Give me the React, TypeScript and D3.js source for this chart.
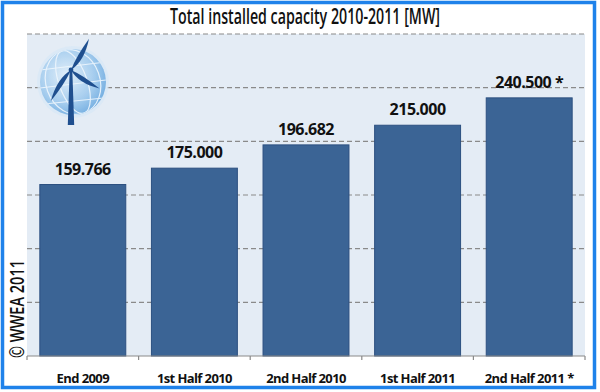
import React from "react";
import * as d3 from "d3";

const categories = ["End 2009", "1st Half 2010", "2nd Half 2010", "1st Half 2011", "2nd Half 2011 *"];
const values = [159.766, 175.0, 196.682, 215.0, 240.5];
const valueLabels = ["159.766", "175.000", "196.682", "215.000", "240.500 *"];
const yTicks = [0, 50, 100, 150, 200, 250, 300];
const title = "Total installed capacity 2010-2011 [MW]";
const watermark = "© WWEA 2011";

const W = 600;
const H = 392;
const M = { left: 27, right: 15, top: 34, bottom: 36 };

export default function App() {
  const x = d3
    .scaleBand<string>()
    .domain(categories)
    .range([M.left, W - M.right])
    .paddingInner(0.23)
    .paddingOuter(0.115);
  const y = d3.scaleLinear().domain([0, 300]).range([H - M.bottom, M.top]);
  const font = "'Open Sans', 'DejaVu Sans', sans-serif";

  const hubX = 71, hubY = 70;
  const blade = (ang: number, len: number) => {
    const r = (ang * Math.PI) / 180;
    const ex = hubX + Math.cos(r) * len;
    const ey = hubY + Math.sin(r) * len;
    const px = -Math.sin(r), py = Math.cos(r);
    const w = 4.5;
    const mx = hubX + Math.cos(r) * len * 0.4;
    const my = hubY + Math.sin(r) * len * 0.4;
    return `M${hubX},${hubY} Q${mx + px * w * 1.6},${my + py * w * 1.6} ${ex},${ey} Q${mx - px * w * 0.5},${my - py * w * 0.5} ${hubX},${hubY}Z`;
  };

  return (
    <svg width={W} height={H} style={{ position: "absolute", left: 0, top: 0, background: "#fff" }}>
      <defs>
        <radialGradient id="globe" cx="0.4" cy="0.4" r="0.7">
          <stop offset="0" stopColor="#e2effa" />
          <stop offset="0.6" stopColor="#a6cdee" />
          <stop offset="1" stopColor="#6aa8de" />
        </radialGradient>
        <clipPath id="gclip">
          <circle cx={73} cy={82} r={33} />
        </clipPath>
      </defs>
      <rect x={2.5} y={2.5} width={592} height={385} fill="#fff" stroke="#1f82ea" strokeWidth={3.5} />
      <rect
        x={M.left}
        y={M.top}
        width={W - M.left - M.right}
        height={H - M.top - M.bottom}
        fill="#e4ecf5"
      />
      {yTicks.slice(1).map((t) => (
        <line
          key={t}
          x1={M.left}
          x2={W - M.right}
          y1={y(t)}
          y2={y(t)}
          stroke="#8a8a8a"
          strokeWidth={1.2}
          strokeDasharray="5,3"
        />
      ))}
      {/* logo */}
      <g>
        <circle cx={73} cy={82} r={36} fill="#d8e8f6" opacity={0.8} />
        <circle cx={73} cy={82} r={33} fill="url(#globe)" />
        <g clipPath="url(#gclip)" fill="none" stroke="#eef6fd" strokeWidth={1.2} opacity={0.9}>
          <ellipse cx={73} cy={82} rx={14} ry={33} transform="rotate(-20 73 82)" />
          <ellipse cx={73} cy={82} rx={27} ry={33} transform="rotate(-20 73 82)" />
          <line x1={40} y1={70} x2={106} y2={62} />
          <line x1={40} y1={88} x2={106} y2={80} />
          <line x1={44} y1={104} x2={104} y2={98} />
        </g>
        <path d={`M${hubX - 1.3},${hubY} L${hubX + 1.3},${hubY} L${hubX + 3.2},125 L${hubX - 3.2},125 Z`} fill="#1f4f8f" />
        <path d={blade(-60, 36)} fill="#1f4f8f" />
        <path d={blade(123, 37)} fill="#1f4f8f" />
        <path d={blade(33, 34)} fill="#1f4f8f" />
        <circle cx={hubX} cy={hubY} r={2.4} fill="#1f4f8f" />
      </g>
      {categories.map((c, i) => (
        <rect
          key={c}
          x={x(c)!}
          y={y(values[i])}
          width={x.bandwidth()}
          height={y(0) - y(values[i])}
          fill="#3b6495"
          stroke="#2c5080"
          strokeWidth={1}
        />
      ))}
      <line x1={M.left} x2={W - M.right} y1={y(0)} y2={y(0)} stroke="#8a8a8a" strokeWidth={1.2} />
      {d3.range(categories.length + 1).map((i) => {
        const xx = M.left + i * x.step();
        return <line key={i} x1={xx} x2={xx} y1={y(0)} y2={y(0) + 4} stroke="#8a8a8a" strokeWidth={1.2} />;
      })}
      {categories.map((c, i) => (
        <text
          key={c}
          x={x(c)! + x.bandwidth() / 2}
          y={y(values[i]) - 10}
          textAnchor="middle"
          fontFamily={font}
          fontWeight="bold"
          fontSize={16}
          letterSpacing={-0.5}
          fill="#111"
        >
          {valueLabels[i]}
        </text>
      ))}
      {categories.map((c) => (
        <text
          key={c}
          x={x(c)! + x.bandwidth() / 2}
          y={383}
          textAnchor="middle"
          fontFamily={font}
          fontWeight="bold"
          fontSize={13}
          letterSpacing={-0.6}
          fill="#111"
        >
          {c}
        </text>
      ))}
      <text
        x={305}
        y={24}
        textAnchor="middle"
        fontFamily={font}
        fontWeight={600}
        fontSize={22}
        textLength={270}
        lengthAdjust="spacingAndGlyphs"
        fill="#111"
      >
        {title}
      </text>
      <text
        transform="translate(24,358) rotate(-90)"
        fontFamily={font}
        fontWeight={600}
        fontSize={19}
        textLength={98}
        lengthAdjust="spacingAndGlyphs"
        fill="#111"
      >
        {watermark}
      </text>
    </svg>
  );
}
